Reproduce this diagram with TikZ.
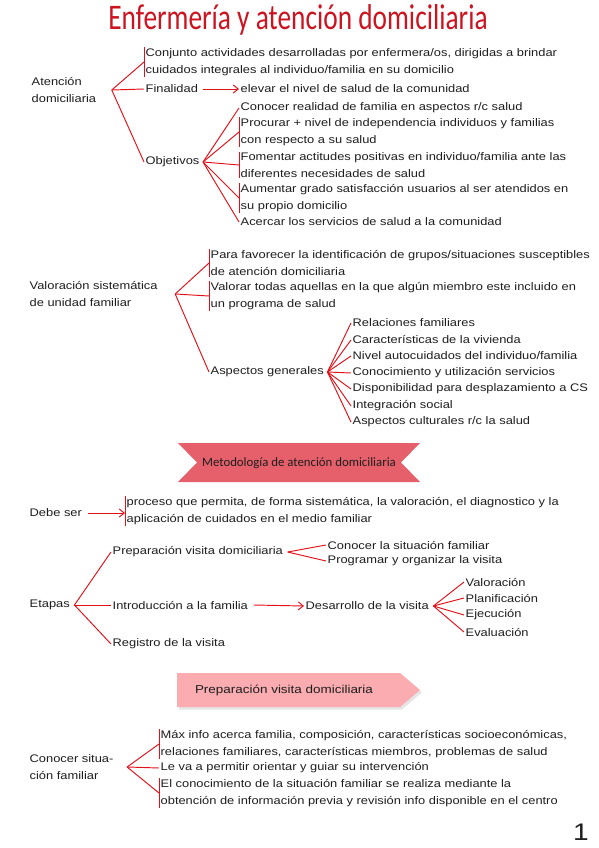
\documentclass[tikz,border=0pt]{standalone}
\usepackage{fontspec}
\setmainfont{Liberation Sans}[FakeStretch=1.17]
\newfontfamily\condfont{Carlito}
\usepackage{graphicx}
\usetikzlibrary{positioning, calc, arrows.meta}
\definecolor{lineRed}{RGB}{228, 16, 24}
\definecolor{titleRed}{RGB}{204, 20, 32}
\definecolor{ribbonRed}{RGB}{229, 96, 106}
\definecolor{ribbonPink}{RGB}{250, 172, 176}
\definecolor{inkDark}{RGB}{30, 30, 30}

\begin{document}
\begin{tikzpicture}[
    x=1pt, y=-1pt,
    item/.style={anchor=west, align=left, inner xsep=1.5pt, inner ysep=1pt,
                 text=inkDark, font=\fontsize{11}{16.5}\selectfont},
    branch/.style={draw=lineRed, line width=0.95pt},
    arrowline/.style={branch, -{Straight Barb[length=5pt, width=8pt]}},
  ]
    \useasboundingbox (0,0) rectangle (599,848);

    \node[text=titleRed, font=\condfont\fontsize{36}{36}\selectfont] (TITLE) at (298,20)
      {\scalebox{0.76}[1]{Enfermería y atención domiciliaria}};

    \node[item] (ATEN) at (30,90) {Atención\\domiciliaria};
    \coordinate (ATENr) at ([xshift=14pt]ATEN.east);
    \node[item] (CONJ) at (144,62)
      {Conjunto actividades desarrolladas por enfermera/os, dirigidas a brindar\\
       cuidados integrales al individuo/familia en su domicilio};
    \node[item] (FINAL) at (144,89) {Finalidad};
    \node[item] (ELEV) at (239,89) {elevar el nivel de salud de la comunidad};
    \node[item] (OBJ) at (144,162) {Objetivos};
    \coordinate (OBJr) at ([xshift=2pt]OBJ.east);
    \node[item] (OB1) at (239,108) {Conocer realidad de familia en aspectos r/c salud};
    \node[item] (OB2) at (239,132)
      {Procurar + nivel de independencia individuos y familias\\con respecto a su salud};
    \node[item] (OB3) at (239,165)
      {Fomentar actitudes positivas en individuo/familia ante las\\diferentes necesidades de salud};
    \node[item] (OB4) at (239,198)
      {Aumentar grado satisfacción usuarios al ser atendidos en\\su propio domicilio};
    \node[item] (OB5) at (239,222) {Acercar los servicios de salud a la comunidad};

    \draw[branch] (CONJ.north west) -- (CONJ.south west);
    \draw[branch] (OB2.north west) -- (OB2.south west);
    \draw[branch] (OB3.north west) -- (OB3.south west);
    \draw[branch] (OB4.north west) -- (OB4.south west);
    \draw[branch] (ATENr) -- (CONJ.west);
    \draw[branch] (ATENr) -- (FINAL.west);
    \draw[branch] (ATENr) -- (OBJ.west);
    \draw[arrowline] ([xshift=3pt]FINAL.east) -- (ELEV.west);
    \draw[branch] (OBJr) -- (OB1.west);
    \draw[branch] (OBJr) -- (OB2.west);
    \draw[branch] (OBJr) -- (OB3.west);
    \draw[branch] (OBJr) -- (OB4.west);
    \draw[branch] (OBJr) -- (OB5.west);

    \node[item] (VALOR) at (28,294) {Valoración sistemática\\de unidad familiar};
    \coordinate (VALORr) at ([xshift=16pt]VALOR.east);
    \node[item] (FAVOR) at (209,263)
      {Para favorecer la identificación de grupos/situaciones susceptibles\\de atención domiciliaria};
    \node[item] (TODAS) at (209,296)
      {Valorar todas aquellas en la que algún miembro este incluido en\\un programa de salud};
    \node[item] (ASPEC) at (209,372) {Aspectos generales};
    \coordinate (ASPECr) at ([xshift=2pt]ASPEC.east);
    \node[item] (AS1) at (351,323) {Relaciones familiares};
    \node[item] (AS2) at (351,340) {Características de la vivienda};
    \node[item] (AS3) at (351,356) {Nivel autocuidados del individuo/familia};
    \node[item] (AS4) at (351,373) {Conocimiento y utilización servicios};
    \node[item] (AS5) at (351,389) {Disponibilidad para desplazamiento a CS};
    \node[item] (AS6) at (351,406) {Integración social};
    \node[item] (AS7) at (351,422) {Aspectos culturales r/c la salud};

    \draw[branch] (FAVOR.north west) -- (FAVOR.south west);
    \draw[branch] (TODAS.north west) -- (TODAS.south west);
    \draw[branch] (VALORr) -- (FAVOR.west);
    \draw[branch] (VALORr) -- (TODAS.west);
    \draw[branch] (VALORr) -- (ASPEC.west);
    \draw[branch] (ASPECr) -- (AS1.west);
    \draw[branch] (ASPECr) -- (AS2.west);
    \draw[branch] (ASPECr) -- (AS3.west);
    \draw[branch] (ASPECr) -- (AS4.west);
    \draw[branch] (ASPECr) -- (AS5.west);
    \draw[branch] (ASPECr) -- (AS6.west);
    \draw[branch] (ASPECr) -- (AS7.west);

    \fill[ribbonRed] (178,443) -- (420,443) -- (401,462.5) -- (420,482)
      -- (178,482) -- (197,462.5) -- cycle;
    \node[text=inkDark, font=\condfont\fontsize{12.8}{12.8}\selectfont] (METOD) at (299,463)
      {Metodología de atención domiciliaria};

    \node[item] (DEBE) at (28,513) {Debe ser};
    \node[item] (PROC) at (125,511)
      {proceso que permita, de forma sistemática, la valoración, el diagnostico y la\\
       aplicación de cuidados en el medio familiar};
    \draw[branch] (PROC.north west) -- (PROC.south west);
    \draw[arrowline] ([xshift=4pt]DEBE.east) -- (PROC.west |- DEBE.east);

    \node[item] (ETAP) at (28,605) {Etapas};
    \coordinate (ETAPr) at ([xshift=3pt]ETAP.east);
    \node[item] (PREP) at (111,552) {Preparación visita domiciliaria};
    \coordinate (PREPr) at ([xshift=3pt]PREP.east);
    \node[item] (CONO) at (326,545) {Conocer la situación familiar};
    \node[item] (PROG) at (326,561) {Programar y organizar la visita};
    \node[item] (INTRO) at (111,605) {Introducción a la familia};
    \node[item] (DESA) at (304,606) {Desarrollo de la visita};
    \coordinate (DESAr) at ([xshift=3pt]DESA.east);
    \node[item] (VALO) at (464,582) {Valoración};
    \node[item] (PLAN) at (464,598) {Planificación};
    \node[item] (EJEC) at (464,615) {Ejecución};
    \node[item] (EVAL) at (464,632) {Evaluación};
    \node[item] (REGI) at (111,644) {Registro de la visita};

    \draw[branch] (ETAPr) -- (PREP.west);
    \draw[branch] (ETAPr) -- (INTRO.west);
    \draw[branch] (ETAPr) -- (REGI.west);
    \draw[branch] (PREPr) -- (CONO.west);
    \draw[branch] (PREPr) -- (PROG.west);
    \draw[arrowline] ([xshift=4pt]INTRO.east) -- (DESA.west);
    \draw[branch] (DESAr) -- (VALO.west);
    \draw[branch] (DESAr) -- (PLAN.west);
    \draw[branch] (DESAr) -- (EJEC.west);
    \draw[branch] (DESAr) -- (EVAL.west);

    \fill[black!10] (179,675.5) -- (402,675.5) -- (422,692.5) -- (402,709.5)
      -- (179,709.5) -- cycle;
    \fill[ribbonPink] (177,673) -- (400,673) -- (420,690) -- (400,707)
      -- (177,707) -- cycle;
    \node[text=inkDark, font=\fontsize{11.5}{12}\selectfont] (PVD) at (284,690)
      {Preparación visita domiciliaria};

    \node[item] (CSIT) at (28,767) {Conocer situa-\\ción familiar};
    \coordinate (CSITr) at ([xshift=12pt]CSIT.east);
    \node[item] (MAX) at (159,744)
      {Máx info acerca familia, composición, características socioeconómicas,\\
       relaciones familiares, características miembros, problemas de salud};
    \node[item] (PERM) at (159,768) {Le va a permitir orientar y guiar su intervención};
    \node[item] (OBTEN) at (159,793)
      {El conocimiento de la situación familiar se realiza mediante la\\
       obtención de información previa y revisión info disponible en el centro};

    \draw[branch] (MAX.north west) -- (MAX.south west);
    \draw[branch] (OBTEN.north west) -- (OBTEN.south west);
    \draw[branch] (CSITr) -- (MAX.west);
    \draw[branch] (CSITr) -- (PERM.west);
    \draw[branch] (CSITr) -- (OBTEN.west);

    \node[text=inkDark, font=\fontsize{24}{24}\selectfont] (PAGE) at (581,832) {1};
  \end{tikzpicture}
\end{document}
